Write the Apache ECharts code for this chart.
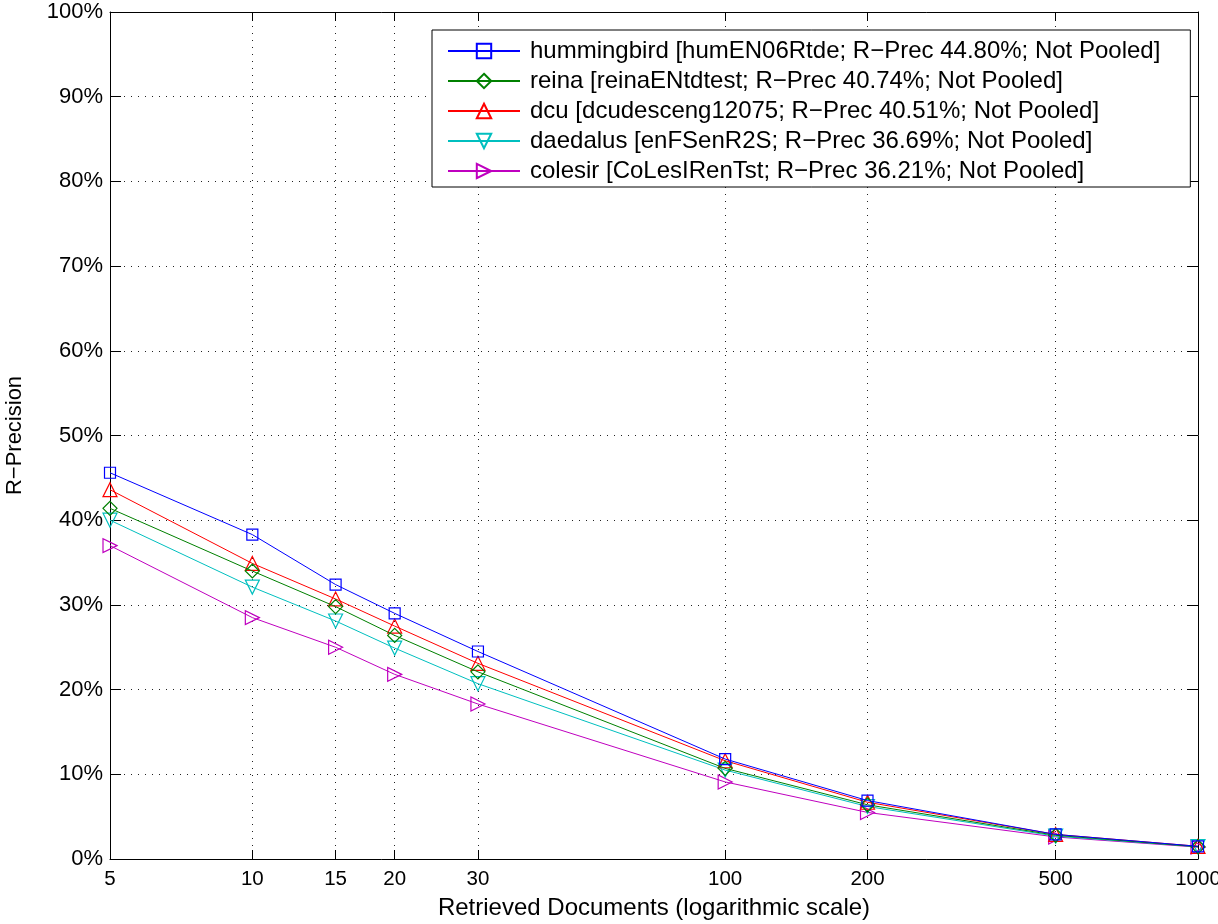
<!DOCTYPE html>
<html>
<head>
<meta charset="utf-8">
<script src="https://cdn.jsdelivr.net/npm/echarts@6/dist/echarts.min.js"></script>
<style>
html,body{margin:0;padding:0;background:#fff;}
#chart{width:1218px;height:924px;}
</style>
</head>
<body>
<div id="chart"></div>
<script>
const docs = [5, 10, 15, 20, 30, 100, 200, 500, 1000];
const xTicks = [5, 10, 15, 20, 30, 100, 200, 500, 1000];
const hummingbird = [45.6, 38.3, 32.4, 29.0, 24.5, 11.8, 6.9, 2.9, 1.5];
const reina       = [41.4, 34.0, 29.8, 26.4, 22.1, 10.7, 6.4, 2.8, 1.45];
const dcu         = [43.6, 34.9, 30.7, 27.5, 23.1, 11.6, 6.7, 2.9, 1.5];
const daedalus    = [40.0, 32.1, 28.1, 24.9, 20.7, 10.5, 6.2, 2.7, 1.45];
const colesir     = [37.0, 28.5, 25.0, 21.8, 18.3, 9.1, 5.5, 2.6, 1.4];
const names = [
  'hummingbird [humEN06Rtde; R\u2212Prec 44.80%; Not Pooled]',
  'reina [reinaENtdtest; R\u2212Prec 40.74%; Not Pooled]',
  'dcu [dcudesceng12075; R\u2212Prec 40.51%; Not Pooled]',
  'daedalus [enFSenR2S; R\u2212Prec 36.69%; Not Pooled]',
  'colesir [CoLesIRenTst; R\u2212Prec 36.21%; Not Pooled]'
];
const values = [hummingbird, reina, dcu, daedalus, colesir];
const colors = ['#0000ff', '#008000', '#ff0000', '#00bfbf', '#bf00bf'];
const symbols = ['rect', 'diamond', 'triangle', 'triangle', 'triangle'];
const rotates = [0, 0, 0, 180, -90];
const sizes = [11, 14, 14, 14, 14];

const FONT = '"Liberation Sans", Arial, Helvetica, sans-serif';
const chart = echarts.init(document.getElementById('chart'), null, {renderer: 'canvas'});

const series = values.map((v, i) => ({
  name: names[i],
  type: 'line',
  data: docs.map((d, j) => [d, v[j]]),
  symbol: symbols[i],
  symbolRotate: rotates[i],
  symbolSize: sizes[i],
  showAllSymbol: true,
  lineStyle: {color: colors[i], width: 1},
  itemStyle: {color: 'rgba(255,255,255,0)', borderColor: colors[i], borderWidth: 1.2},
  emphasis: {disabled: true},
  animation: false,
  z: 10 - i
}));

const gridLine = {show: true, lineStyle: {color: '#222', type: [1, 6], width: 1}};

chart.setOption({
  animation: false,
  backgroundColor: '#fff',
  grid: {left: 110, right: 20, top: 12, bottom: 65, containLabel: false, outerBoundsMode: 'none'},
  legend: {
    orient: 'vertical',
    left: 432,
    top: 30,
    itemWidth: 72,
    itemHeight: 18,
    itemGap: 6,
    padding: [9, 30, 4, 15],
    borderColor: '#000',
    borderWidth: 1,
    backgroundColor: '#fff',
    textStyle: {fontFamily: FONT, fontSize: 24, color: '#000', lineHeight: 24, padding: [0, 0, 0, 5]},
    data: names
  },
  xAxis: [{
    type: 'log',
    logBase: 10,
    min: 5,
    max: 1000,
    name: 'Retrieved Documents (logarithmic scale)',
    nameLocation: 'middle',
    nameGap: 37,
    nameTextStyle: {fontFamily: FONT, fontSize: 24, color: '#000'},
    axisLine: {show: true, onZero: false, lineStyle: {color: '#000', width: 1}},
    axisTick: {show: true, inside: true, length: 9, customValues: xTicks, lineStyle: {color: '#000'}},
    axisLabel: {show: true, customValues: xTicks, fontFamily: FONT, fontSize: 20.5, color: '#000', margin: 10,
      formatter: (v) => String(Math.round(v))},
    splitLine: gridLine,
    minorTick: {show: false},
    minorSplitLine: {show: false}
  }, {
    type: 'log',
    logBase: 10,
    min: 5,
    max: 1000,
    position: 'top',
    axisLine: {show: true, onZero: false, lineStyle: {color: '#000', width: 1}},
    axisTick: {show: true, inside: true, length: 9, customValues: xTicks, lineStyle: {color: '#000'}},
    axisLabel: {show: false, customValues: xTicks},
    splitLine: {show: false}
  }],
  yAxis: [{
    type: 'value',
    min: 0,
    max: 100,
    interval: 10,
    name: 'R\u2212Precision',
    nameLocation: 'middle',
    nameGap: 84,
    nameTextStyle: {fontFamily: FONT, fontSize: 22, color: '#000'},
    axisLine: {show: true, onZero: false, lineStyle: {color: '#000', width: 1}},
    axisTick: {show: true, inside: true, length: 11, lineStyle: {color: '#000'}},
    axisLabel: {fontFamily: FONT, fontSize: 22, color: '#000', margin: 7, formatter: '{value}%'},
    splitLine: gridLine
  }, {
    type: 'value',
    min: 0,
    max: 100,
    interval: 10,
    position: 'right',
    axisLine: {show: true, onZero: false, lineStyle: {color: '#000', width: 1}},
    axisTick: {show: true, inside: true, length: 11, lineStyle: {color: '#000'}},
    axisLabel: {show: false},
    splitLine: {show: false}
  }],
  series: series
});
</script>
</body>
</html>
